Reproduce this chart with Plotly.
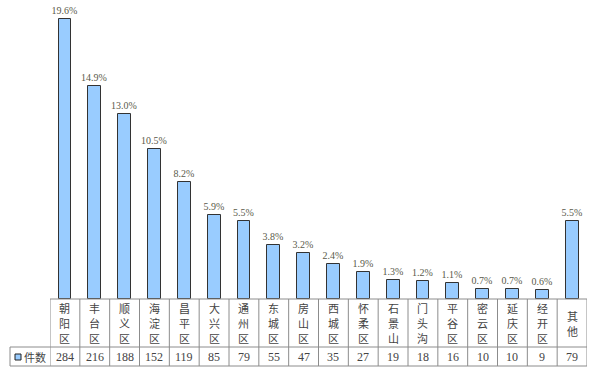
import plotly.graph_objects as go

categories = ["朝阳区", "丰台区", "顺义区", "海淀区", "昌平区", "大兴区", "通州区", "东城区",
              "房山区", "西城区", "怀柔区", "石景山", "门头沟", "平谷区", "密云区", "延庆区",
              "经开区", "其他"]
counts = [284, 216, 188, 152, 119, 85, 79, 55, 47, 35, 27, 19, 18, 16, 10, 10, 9, 79]
percent_labels = ["19.6%", "14.9%", "13.0%", "10.5%", "8.2%", "5.9%", "5.5%", "3.8%",
                  "3.2%", "2.4%", "1.9%", "1.3%", "1.2%", "1.1%", "0.7%", "0.7%",
                  "0.6%", "5.5%"]
series_name = "件数"

W, H = 600, 381
L, R, T, B = 50, 13, 10, 82
plot_h = H - T - B
plot_w = W - L - R
base_px = H - B


def py(Y):
    return (base_px - Y) / plot_h


def px(X):
    return (X - L) / plot_w


n = len(categories)
xs = list(range(n))

fig = go.Figure()
fig.add_trace(go.Bar(
    x=xs, y=counts, text=percent_labels, textposition="outside", constraintext="none",
    textfont=dict(family="Liberation Serif", size=10, color="#5a5a4a"),
    marker=dict(color="#99CCFF", line=dict(color="#333333", width=1)),
    width=0.43, cliponaxis=False, showlegend=False, name=series_name,
    hoverinfo="skip",
))

grid = "#8c8c8c"
shapes = []
y_top, y_mid, y_bot = py(299), py(347), py(366)
for i in range(n + 1):
    shapes.append(dict(type="line", xref="x", yref="paper", x0=i - 0.5, x1=i - 0.5,
                       y0=y_top, y1=y_bot, line=dict(color=grid, width=1)))
shapes.append(dict(type="line", xref="paper", yref="paper", x0=px(10), x1=px(10),
                   y0=y_mid, y1=y_bot, line=dict(color=grid, width=1)))
for yy in (y_mid, y_bot):
    shapes.append(dict(type="line", xref="paper", yref="paper", x0=px(10), x1=1,
                       y0=yy, y1=yy, line=dict(color=grid, width=1)))
shapes.append(dict(type="line", xref="paper", yref="paper", x0=0, x1=1,
                   y0=y_top, y1=y_top, line=dict(color=grid, width=1)))
# legend swatch
shapes.append(dict(type="rect", xref="paper", yref="paper", x0=px(15), x1=px(21),
                   y0=py(360), y1=py(354), fillcolor="#99CCFF",
                   line=dict(color="#222222", width=1)))

annotations = []
line_step = 15
for i, c in enumerate(categories):
    chars = list(c)
    start = 323 - line_step * (len(chars) - 1) / 2
    for k, ch in enumerate(chars):
        annotations.append(dict(
            x=i, xref="x", y=py(start + k * line_step), yref="paper", text=ch,
            showarrow=False, xanchor="center", yanchor="middle",
            font=dict(family="Noto Sans CJK SC", size=11, color="#444444"),
        ))
    annotations.append(dict(
        x=i, xref="x", y=py(356.5), yref="paper", text=str(counts[i]),
        showarrow=False, xanchor="center", yanchor="middle",
        font=dict(family="Liberation Serif", size=12, color="#444444"),
    ))
annotations.append(dict(
    x=px(22), xref="paper", y=py(356.5), yref="paper", text=series_name,
    showarrow=False, xanchor="left", yanchor="middle",
    font=dict(family="Noto Sans CJK SC", size=11, color="#444444"),
))

fig.update_layout(
    width=W, height=H,
    margin=dict(l=L, r=R, t=T, b=B),
    plot_bgcolor="white", paper_bgcolor="white",
    xaxis=dict(range=[-0.5, n - 0.5], showticklabels=False, showgrid=False,
               zeroline=False, showline=False, ticks=""),
    yaxis=dict(range=[0, plot_h / 0.986], visible=False, showgrid=False),
    shapes=shapes, annotations=annotations, bargap=0,
)

fig.write_html("out.html", config={"displayModeBar": False},
               post_script="document.body.style.margin='0';")
